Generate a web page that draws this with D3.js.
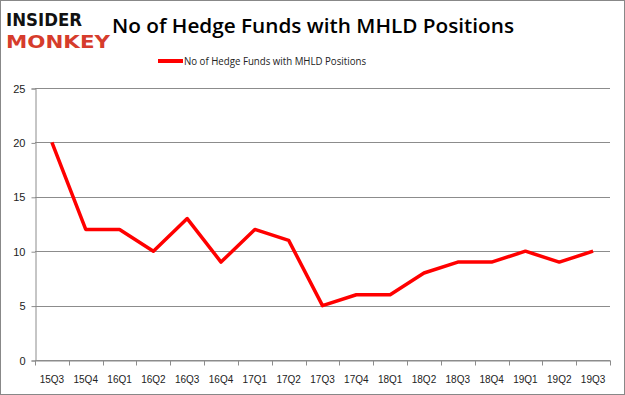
<!DOCTYPE html>
<html>
<head>
<meta charset="utf-8">
<script src="https://cdn.jsdelivr.net/npm/d3@7"></script>
<style>
  body { margin: 0; background: #fff; }
</style>
</head>
<body>
<script>
const width = 625;
const height = 395;

const quarters = ["15Q3", "15Q4", "16Q1", "16Q2", "16Q3", "16Q4", "17Q1", "17Q2", "17Q3",
  "17Q4", "18Q1", "18Q2", "18Q3", "18Q4", "19Q1", "19Q2", "19Q3"];
const funds = [20, 12, 12, 10, 13, 9, 12, 11, 5, 6, 6, 8, 9, 9, 10, 9, 10];
const yTicks = [0, 5, 10, 15, 20, 25];
const seriesName = "No of Hedge Funds with MHLD Positions";

const margin = { top: 88, right: 15, bottom: 35, left: 35 };

const svg = d3
  .select("body")
  .append("svg")
  .attr("width", width)
  .attr("height", height)
  .style("font-family", "Verdana, 'DejaVu Sans', sans-serif");

// outer frame
svg.append("rect")
  .attr("x", 0.5).attr("y", 0.5)
  .attr("width", width - 1).attr("height", height - 1)
  .attr("fill", "#fff")
  .attr("stroke", "#888");

// logo
svg.append("text")
  .attr("x", 6).attr("y", 26)
  .attr("font-family", "'DejaVu Sans', sans-serif")
  .attr("font-weight", "900")
  .attr("font-size", 18)
  .attr("textLength", 76)
  .attr("lengthAdjust", "spacingAndGlyphs")
  .attr("fill", "#111")
  .text("INSIDER");
svg.append("text")
  .attr("x", 6).attr("y", 48)
  .attr("font-family", "'DejaVu Sans', sans-serif")
  .attr("font-weight", "900")
  .attr("font-size", 18)
  .attr("textLength", 104)
  .attr("lengthAdjust", "spacingAndGlyphs")
  .attr("fill", "#d63c2c")
  .text("MONKEY");

// title
svg.append("text")
  .attr("x", 313).attr("y", 33)
  .attr("text-anchor", "middle")
  .attr("font-family", "'Open Sans', sans-serif")
  .attr("font-weight", "600")
  .attr("font-size", 20)
  .attr("textLength", 402)
  .attr("lengthAdjust", "spacingAndGlyphs")
  .attr("fill", "#000")
  .text("No of Hedge Funds with MHLD Positions");

// legend
const legend = svg.append("g").attr("transform", "translate(158,61)");
legend.append("line")
  .attr("x1", 0).attr("x2", 25)
  .attr("stroke", "red").attr("stroke-width", 4);
legend.append("text")
  .attr("x", 26).attr("y", 4)
  .attr("font-family", "'Open Sans', sans-serif")
  .attr("font-size", 11)
  .attr("textLength", 182)
  .attr("lengthAdjust", "spacingAndGlyphs")
  .attr("fill", "#222")
  .text(seriesName);

const x = d3.scaleBand()
  .domain(quarters)
  .range([margin.left, width - margin.right]);

const y = d3.scaleLinear()
  .domain([0, 25])
  .range([height - margin.bottom, margin.top]);

// gridlines
svg.append("g")
  .selectAll("line")
  .data(yTicks)
  .join("line")
  .attr("x1", margin.left).attr("x2", width - margin.right)
  .attr("y1", (d) => Math.round(y(d)) + 0.5)
  .attr("y2", (d) => Math.round(y(d)) + 0.5)
  .attr("stroke", "#8c8c8c");

// y axis
const yAxis = svg.append("g")
  .attr("transform", `translate(${margin.left + 0.5},0.5)`)
  .call(d3.axisLeft(y).tickValues(yTicks).tickSize(4).tickPadding(6));
yAxis.select(".domain").attr("stroke", "#8c8c8c");
yAxis.selectAll(".tick line").attr("stroke", "#8c8c8c");
yAxis.selectAll(".tick text")
  .attr("font-size", 11).attr("fill", "#222");

// x axis
const xAxis = svg.append("g")
  .attr("transform", `translate(0,${Math.round(y(0)) + 0.5})`)
  .call(d3.axisBottom(x).tickSize(0).tickPadding(15));
xAxis.select(".domain").attr("stroke", "#8c8c8c");
xAxis.selectAll(".tick text")
  .attr("font-size", 10).attr("fill", "#222");
xAxis.selectAll(".sep")
  .data(d3.range(quarters.length + 1))
  .join("line")
  .attr("class", "sep")
  .attr("x1", (i) => Math.round(margin.left + i * x.bandwidth()) + 0.5)
  .attr("x2", (i) => Math.round(margin.left + i * x.bandwidth()) + 0.5)
  .attr("y1", 0).attr("y2", 5)
  .attr("stroke", "#8c8c8c");

// series line
const line = d3.line()
  .x((d, i) => x(quarters[i]) + x.bandwidth() / 2)
  .y((d) => y(d));

svg.append("path")
  .datum(funds)
  .attr("d", line)
  .attr("fill", "none")
  .attr("stroke", "red")
  .attr("stroke-width", 3.5)
  .attr("stroke-linejoin", "round");
</script>
</body>
</html>
